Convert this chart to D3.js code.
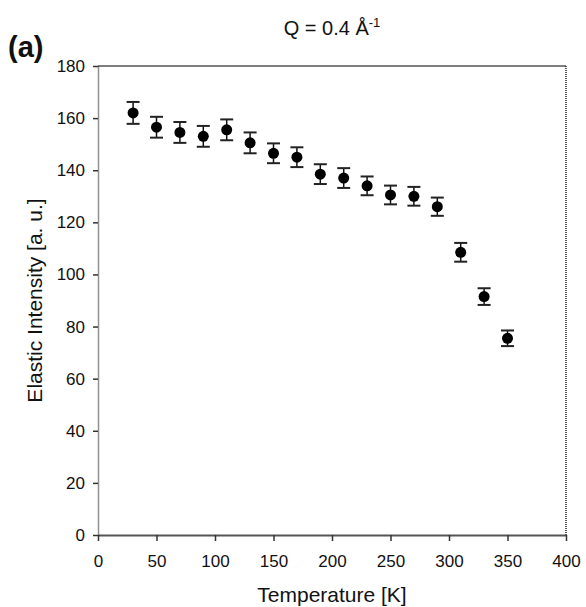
<!DOCTYPE html>
<html>
<head>
<meta charset="utf-8">
<script src="https://cdn.jsdelivr.net/npm/d3@7"></script>
<style>
  body { margin: 0; background: #fff; }
  svg { display: block; font-family: "Liberation Sans", Arial, sans-serif; }
</style>
</head>
<body>
<div id="chart-area"></div>
<script>
// temperature [K]
const temperature = [30, 50, 70, 90, 110, 130, 150, 170, 190, 210, 230, 250, 270, 290, 310, 330, 350];
// elastic intensity [a.u.]
const intensity = [162, 156.5, 154.5, 153, 155.5, 150.5, 146.5, 145, 138.5, 137, 134, 130.5, 130, 126, 108.5, 91.5, 75.5];
// error bar half-height
const errors = [4.2, 4, 4, 4, 4, 4, 3.8, 3.8, 3.8, 3.8, 3.6, 3.6, 3.6, 3.5, 3.6, 3.2, 3];
const xTicks = [0, 50, 100, 150, 200, 250, 300, 350, 400];
const yTicks = [0, 20, 40, 60, 80, 100, 120, 140, 160, 180];

let width = 586,
    height = 607,
    margin = { top: 66, right: 20, bottom: 72, left: 98 };

let svg = d3.select("#chart-area").append("svg")
    .attr("width", width)
    .attr("height", height);

let x = d3.scaleLinear().domain([0, 400]).range([margin.left, width - margin.right]);
let y = d3.scaleLinear().domain([0, 180]).range([height - margin.bottom, margin.top]);

let data = temperature.map((t, i) => ({ t: t, v: intensity[i], e: errors[i] }));

// frame: top and right
svg.append("line")
    .attr("x1", x(0)).attr("x2", x(400))
    .attr("y1", y(180)).attr("y2", y(180))
    .attr("stroke", "#555").attr("stroke-width", 1.5);
svg.append("line")
    .attr("x1", x(400)).attr("x2", x(400))
    .attr("y1", y(180)).attr("y2", y(0))
    .attr("stroke", "#222").attr("stroke-width", 1.5)
    .attr("stroke-dasharray", "1,1");

// x axis
let xAxis = svg.append("g")
    .attr("transform", "translate(0," + y(0) + ")")
    .call(d3.axisBottom(x).tickValues(xTicks).tickSize(6).tickPadding(14).tickSizeOuter(0));
xAxis.select(".domain").attr("stroke", "#555").attr("stroke-width", 2);
xAxis.selectAll(".tick line").attr("stroke", "#333").attr("stroke-width", 1.5);
xAxis.selectAll("text").attr("font-size", 17).attr("fill", "#111");

// y axis
let yAxis = svg.append("g")
    .attr("transform", "translate(" + x(0) + ",0)")
    .call(d3.axisLeft(y).tickValues(yTicks).tickSize(5).tickPadding(8).tickSizeOuter(0));
yAxis.select(".domain").attr("stroke", "#222").attr("stroke-width", 1.5).attr("stroke-dasharray", "1,1");
yAxis.selectAll(".tick line").attr("stroke", "#333").attr("stroke-width", 1.5);
yAxis.selectAll("text").attr("font-size", 17).attr("fill", "#111");

// error bars
let g = svg.selectAll(".pt")
    .data(data)
    .enter().append("g")
    .attr("class", "pt");

g.append("line")
    .attr("x1", d => x(d.t)).attr("x2", d => x(d.t))
    .attr("y1", d => y(d.v + d.e)).attr("y2", d => y(d.v - d.e))
    .attr("stroke", "#111").attr("stroke-width", 1.5);
g.append("line")
    .attr("x1", d => x(d.t) - 6.5).attr("x2", d => x(d.t) + 6.5)
    .attr("y1", d => y(d.v + d.e)).attr("y2", d => y(d.v + d.e))
    .attr("stroke", "#222").attr("stroke-width", 2);
g.append("line")
    .attr("x1", d => x(d.t) - 6.5).attr("x2", d => x(d.t) + 6.5)
    .attr("y1", d => y(d.v - d.e)).attr("y2", d => y(d.v - d.e))
    .attr("stroke", "#222").attr("stroke-width", 2);
g.append("circle")
    .attr("cx", d => x(d.t))
    .attr("cy", d => y(d.v))
    .attr("r", 5.5)
    .attr("fill", "#000");

// labels
svg.append("text")
    .attr("x", (x(0) + x(400)) / 2)
    .attr("y", 602)
    .attr("text-anchor", "middle")
    .attr("font-size", 21)
    .attr("fill", "#111")
    .text("Temperature [K]");

svg.append("text")
    .attr("transform", "translate(42," + ((y(0) + y(180)) / 2) + ") rotate(-90)")
    .attr("text-anchor", "middle")
    .attr("font-size", 21)
    .attr("fill", "#111")
    .text("Elastic Intensity [a. u.]");

let title = svg.append("text")
    .attr("x", 332)
    .attr("y", 35)
    .attr("text-anchor", "middle")
    .attr("font-size", 20)
    .attr("fill", "#111");
title.append("tspan").text("Q = 0.4 Å");
title.append("tspan").attr("font-size", 13).attr("dy", -8).text("-1");

svg.append("text")
    .attr("x", 8)
    .attr("y", 57)
    .attr("font-size", 29)
    .attr("font-weight", "bold")
    .attr("fill", "#111")
    .text("(a)");
</script>
</body>
</html>
